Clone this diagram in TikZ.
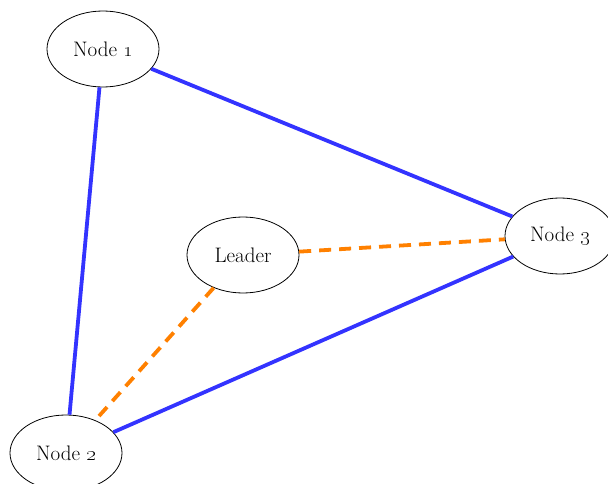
\documentclass[tikz,border=0pt]{standalone}
\usetikzlibrary{shapes.geometric}
\definecolor{edgeblue}{RGB}{51,51,255}
\definecolor{edgeorange}{RGB}{255,128,0}
\tikzset{
  peer/.style={ellipse, draw=black, line width=0.8pt, fill=white, inner sep=0pt,
    minimum width=112pt, minimum height=76pt, font=\fontsize{21}{24}\selectfont},
  link/.style={draw=edgeblue, line width=3.8pt},
  lead/.style={draw=edgeorange, line width=3.8pt, dash pattern=on 12pt off 8pt},
}
\begin{document}
\begin{tikzpicture}[x=1pt,y=-1pt]
\useasboundingbox (0,0) rectangle (608,484);
\node[peer] (n1) at (103,49) {Node \oldstylenums{1}};
\node[peer] (ld) at (243,255) {Leader};
\node[peer, minimum width=110pt] (n3) at (560,236) {Node \oldstylenums{3}};
\node[peer] (n2) at (66,453) {Node \oldstylenums{2}};
\draw[link] (n1) -- (n2);
\draw[link] (n1) -- (n3);
\draw[link] (n2) -- (n3);
\draw[lead] (ld) -- (n3);
\draw[lead] (ld) -- (n2);
\end{tikzpicture}
\end{document}
